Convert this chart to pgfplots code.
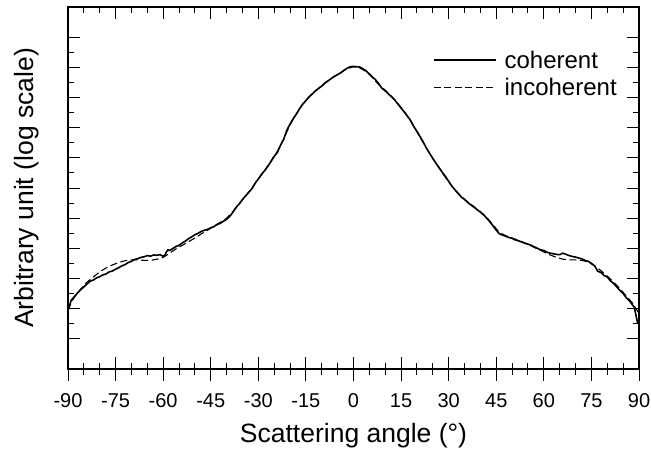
\documentclass[border=0pt]{standalone}
\usepackage{fontspec}
\setmainfont{Liberation Sans}
\usepackage{pgfplots}
\pgfplotsset{compat=1.18}
\usetikzlibrary{calc}

\pgfplotstableread{
x y
-90 1.95
-89.5 2.10
-89 2.28
-88 2.40
-87 2.52
-86 2.63
-85 2.72
-84 2.82
-83 2.91
-82 2.95
-81 3.02
-80 3.06
-79 3.12
-78 3.15
-77 3.22
-76 3.25
-75 3.31
-74 3.36
-73 3.42
-72 3.46
-71 3.53
-70 3.57
-69 3.63
-68 3.66
-67 3.70
-66 3.72
-65 3.76
-64 3.74
-63 3.78
-62 3.77
-61 3.79
-60 3.74
-59.5 3.76
-59 3.88
-58.5 3.95
-58 3.93
-57 3.99
-56 4.06
-55 4.10
-54 4.18
-53 4.24
-52 4.32
-51 4.38
-50 4.45
-49 4.50
-48 4.56
-47 4.60
-46 4.63
-45 4.68
-44 4.72
-43 4.79
-42 4.83
-41 4.90
-40 4.96
-39 5.06
-38 5.20
-37 5.36
-36 5.48
-35 5.62
-34 5.74
-33 5.86
-32 5.98
-31 6.16
-30 6.30
-29 6.45
-28 6.58
-27 6.72
-26 6.88
-25 7.05
-24 7.18
-23 7.42
-22 7.62
-21 7.92
-20 8.12
-19 8.30
-18 8.45
-17 8.63
-16 8.78
-15 8.90
-14 9.02
-13 9.12
-12 9.22
-11 9.30
-10 9.38
-9 9.48
-8 9.55
-7 9.63
-6 9.70
-5 9.76
-4 9.82
-3 9.90
-2 9.97
-1 10.02
0 10.03
1 10.02
2 10.01
3 9.95
4 9.88
5 9.78
6 9.68
7 9.58
8 9.45
9 9.30
10 9.22
11 9.12
12 9.02
13 8.92
14 8.78
15 8.65
16 8.52
17 8.38
18 8.24
19 8.04
20 7.88
21 7.70
22 7.52
23 7.32
24 7.15
25 6.98
26 6.82
27 6.67
28 6.52
29 6.38
30 6.22
31 6.06
32 5.94
33 5.82
34 5.70
35 5.62
36 5.52
37 5.44
38 5.36
39 5.28
40 5.20
41 5.11
42 5.00
43 4.88
44 4.74
45 4.60
46 4.48
47 4.44
48 4.40
49 4.36
50 4.33
51 4.28
52 4.25
53 4.21
54 4.17
55 4.14
56 4.10
57 4.05
58 4.00
59 3.95
60 3.93
61 3.87
62 3.84
63 3.82
64 3.80
65 3.79
66 3.84
67 3.80
68 3.76
69 3.73
70 3.71
71 3.68
72 3.65
73 3.60
74 3.57
75 3.50
76 3.42
77 3.24
78 3.20
79 3.10
80 3.05
81 2.92
82 2.84
83 2.72
84 2.60
85 2.50
86 2.36
87 2.26
88 2.12
88.5 2.05
89 1.80
89.5 1.55
90 1.62
}\coherent

\pgfplotstableread{
x y
-90 1.95
-89 2.20
-88 2.38
-86 2.65
-84 2.88
-82 3.05
-80 3.22
-78 3.35
-76 3.45
-74 3.53
-72 3.59
-70 3.62
-68 3.62
-66 3.60
-64 3.60
-62 3.64
-60 3.70
-58 3.84
-56 3.98
-54 4.10
-52 4.22
-50 4.34
-48 4.48
-46 4.60
-44 4.74
-42 4.86
-40 5.00
-38 5.22
-36 5.47
-34 5.74
-32 6.00
-30 6.30
-28 6.58
-26 6.90
-24 7.22
-22 7.62
-20 8.10
-18 8.46
-16 8.78
-14 9.02
-12 9.22
-10 9.40
-8 9.56
-6 9.70
-4 9.83
-2 9.96
0 10.02
2 9.98
4 9.86
6 9.66
8 9.42
10 9.24
12 9.04
14 8.80
16 8.54
18 8.22
20 7.86
22 7.50
24 7.14
26 6.82
28 6.50
30 6.20
32 5.93
34 5.72
36 5.54
38 5.38
40 5.22
42 5.02
44 4.78
46 4.52
48 4.42
50 4.34
52 4.27
54 4.18
56 4.08
58 3.98
60 3.88
62 3.78
64 3.70
66 3.64
68 3.62
70 3.62
72 3.60
74 3.55
76 3.42
78 3.26
80 3.08
82 2.88
84 2.66
86 2.42
88 2.18
89 2.00
90 1.85
}\incoherent

\begin{document}
\begin{tikzpicture}
\pgfplotsset{
  commonax/.style={
    scale only axis, width=571pt, height=362pt,
    xmin=-90, xmax=90, ymin=0, ymax=12,
    xtick={-90,-75,...,90},
    minor x tick num=2,
    ytick={1,2,...,11},
    minor y tick num=1,
    major tick length=12pt,
    minor tick length=6pt,
    every tick/.style={black, line width=1pt},
  }
}
\begin{axis}[commonax,
  tick align=inside,
  xtick pos=both, ytick pos=both,
  yticklabels={},
  xticklabels={-90,-75,-60,-45,-30,-15,0,15,30,45,60,75,90},
  xticklabel style={font=\fontsize{20}{22}\selectfont, yshift=-21pt},
  axis line style={line width=1.2pt},
  xlabel={Scattering angle (°)},
  ylabel={Arbitrary unit (log scale)},
  xlabel style={font=\fontsize{26.5}{28}\selectfont, at={(axis description cs:0.5,-0.185)}, anchor=center},
  ylabel style={font=\fontsize{26.5}{28}\selectfont, at={(axis description cs:-0.0727,0.5)}, anchor=center},
  legend style={draw=none, fill=none, font=\fontsize{24}{26}\selectfont,
    at={(axis cs:25,10.62)}, anchor=north west, row sep=4pt,
    inner sep=0pt},
  legend cell align=left,
  legend image code/.code={\draw[#1] (0pt,0pt) -- (62pt,0pt); \path (68pt,0pt);},
]
\addplot[black, line width=1.6pt] table[x=x,y=y] {\coherent};
\addlegendentry{coherent}
\addplot[black, line width=1.1pt, dash pattern=on 7pt off 3.5pt] table[x=x,y=y] {\incoherent};
\addlegendentry{incoherent}
\coordinate (ll) at (rel axis cs:0,0);
\coordinate (ur) at (rel axis cs:1,1);
\end{axis}
\begin{axis}[commonax,
  axis x line*=bottom, hide y axis,
  tick align=outside,
  xticklabels={},
  axis line style={draw=none},
]
\end{axis}
\pgfresetboundingbox
\path[use as bounding box] ($(ll)+(-68pt,-87pt)$) rectangle ($(ur)+(12pt,7pt)$);
\end{tikzpicture}
\end{document}
